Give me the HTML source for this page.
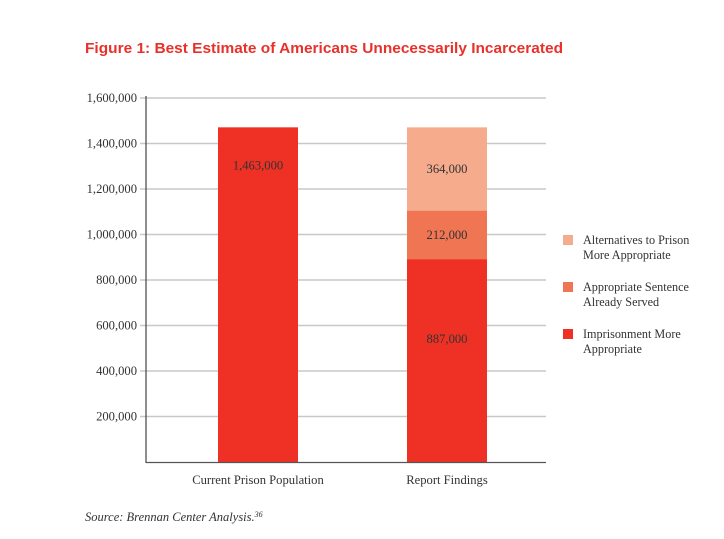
<!DOCTYPE html>
<html><head><meta charset="utf-8"><style>
body{margin:0;background:#fff;width:724px;height:539px;overflow:hidden}
svg{display:block}
.t{font-family:"Liberation Serif",serif;font-size:12.6px;fill:#333}
.l{font-family:"Liberation Serif",serif;font-size:12.2px;fill:#333}
</style></head><body>
<svg id="c" width="724" height="539">
<text x="85" y="53" font-family="Liberation Sans,sans-serif" font-size="15" font-weight="bold" fill="#e8312a" textLength="478" lengthAdjust="spacingAndGlyphs">Figure 1: Best Estimate of Americans Unnecessarily Incarcerated</text>
<g id="grid"></g><g id="bars"></g><g id="legend"></g>
<line x1="146" y1="96" x2="146" y2="463" stroke="#444" stroke-width="1.2"/>
<line x1="146" y1="462.5" x2="546" y2="462.5" stroke="#555" stroke-width="1.2"/>
<text x="85" y="521" font-family="Liberation Serif,serif" font-style="italic" font-size="12.5" fill="#333">Source: Brennan Center Analysis.<tspan font-size="8" dy="-4">36</tspan></text>
</svg>
<script>
const categories=["Current Prison Population","Report Findings"];
const seriesNames=["Imprisonment More Appropriate","Appropriate Sentence Already Served","Alternatives to Prison More Appropriate"];
const imprisonment=[1463000,887000];
const served=[0,212000];
const alternatives=[0,364000];
const ticks=[200000,400000,600000,800000,1000000,1200000,1400000,1600000];
const colors=["#ee3124","#f07552","#f6ab8c"];
const NS="http://www.w3.org/2000/svg";
const y=v=>462-v/1600000*366;
const bx=[218,407],bw=80;
function mk(tag,a,p,txt){const e=document.createElementNS(NS,tag);for(const k in a)e.setAttribute(k,a[k]);if(txt!=null)e.textContent=txt;p.appendChild(e);return e;}
const g=document.getElementById('grid');
ticks.forEach(t=>{
 const yy=462-t/1600000*364;
 const l=mk('line',{x1:140,x2:546,y1:yy,y2:yy,stroke:'#c8c8c8','stroke-width':1.5},g);
 
 
 const tx=mk('text',{x:137,y:yy+4,'text-anchor':'end',class:'t'},g,t.toLocaleString('en-US'));
 
 
});
const b=document.getElementById('bars');
const series=[imprisonment,served,alternatives];
categories.forEach((c,i)=>{
 let base=0;
 series.forEach((s,k)=>{
  const v=s[i];if(!v)return;
  const top=y(base+v),bot=y(base),h=bot-top;
  const r=mk('rect',{x:bx[i],width:bw,y:top,height:h,fill:colors[k]},b);
  
  
  const ly=h>250?top+38:(h>150?top+80:(top+bot)/2);
  const lt=mk('text',{x:bx[i]+bw/2,y:ly+4,'text-anchor':'middle',class:'t'},b,v.toLocaleString('en-US'));
  
  
  base+=v;
 });
 const cl=mk('text',{x:bx[i]+bw/2,y:484,'text-anchor':'middle',class:'t'},b,c);
 
 
});
const lg=document.getElementById('legend');
const legItems=[[2,["Alternatives to Prison","More Appropriate"],240],[1,["Appropriate Sentence","Already Served"],287],[0,["Imprisonment More","Appropriate"],334]];
legItems.forEach(([k,lines,yy])=>{
 const r=mk('rect',{x:563,y:yy-5,width:10,height:10,fill:colors[k]},lg);
 
 
 lines.forEach((ln,j)=>{
  const t=mk('text',{x:583,y:yy+4+j*15,class:'l'},lg,ln);
  
  
 });
});
</script>
</body></html>
